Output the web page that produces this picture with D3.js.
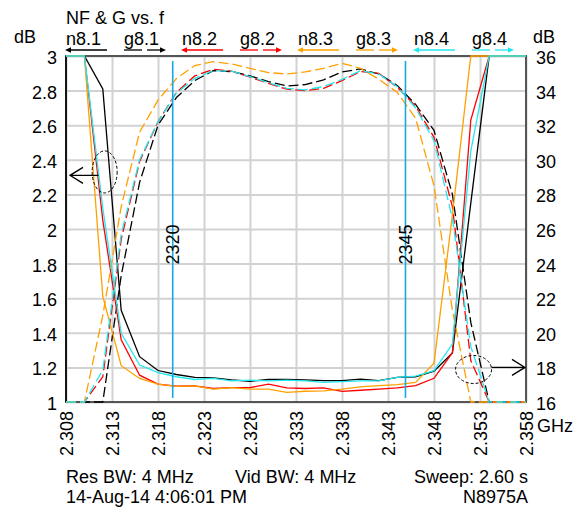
<!DOCTYPE html>
<html>
<head>
<meta charset="utf-8">
<script src="https://cdn.jsdelivr.net/npm/d3@7"></script>
<style>
  body { margin: 0; background: #fff; }
  text { font-family: "Liberation Sans", Arial, sans-serif; }
</style>
</head>
<body>
<div class="chart"></div>
<script>
/* global d3 */

// frequency points (GHz), one per sweep point
const freqs = [2.308, 2.310, 2.312, 2.314, 2.316, 2.318, 2.320, 2.322, 2.324, 2.326,
  2.328, 2.330, 2.332, 2.334, 2.336, 2.338, 2.340, 2.342, 2.344, 2.346,
  2.348, 2.350, 2.352, 2.354, 2.356, 2.358];

// noise figure (dB, left axis)
const n81 = [3, 3, 2.81, 1.53, 1.262, 1.182, 1.159, 1.142, 1.140, 1.128, 1.120, 1.130, 1.130,
  1.128, 1.124, 1.124, 1.132, 1.124, 1.142, 1.146, 1.178, 1.283, 2.15, 3, 3, 3];
const n82 = [3, 3, 2.05, 1.36, 1.155, 1.103, 1.091, 1.093, 1.078, 1.083, 1.083, 1.103, 1.082,
  1.078, 1.082, 1.062, 1.068, 1.074, 1.082, 1.095, 1.137, 1.285, 2.63, 3, 3, 3];
const n83 = [3, 3, 1.61, 1.21, 1.136, 1.103, 1.090, 1.093, 1.074, 1.083, 1.074, 1.074, 1.056,
  1.062, 1.064, 1.074, 1.087, 1.095, 1.101, 1.113, 1.224, 2.08, 3, 3, 3, 3];
const n84 = [3, 3, 2.12, 1.397, 1.214, 1.170, 1.146, 1.130, 1.136, 1.122, 1.126, 1.122, 1.126,
  1.122, 1.113, 1.118, 1.122, 1.122, 1.142, 1.150, 1.181, 1.335, 2.45, 3, 3, 3];

// gain (dB, right axis)
const g81 = [16, 16, 16, 23.3, 28.7, 32.0, 33.6, 34.58, 35.15, 35.10, 34.85, 34.52, 34.27,
  34.35, 34.62, 35.08, 35.25, 34.96, 34.3, 33.2, 31.7, 28.0, 20.6, 16, 16, 16];
const g82 = [16, 16, 17.46, 25.4, 29.9, 32.2, 33.9, 34.85, 35.23, 35.12, 34.78, 34.42, 34.08,
  34.0, 34.13, 34.58, 35.1, 35.0, 34.2, 33.1, 31.3, 27.3, 18.4, 16, 16, 16];
const g83 = [16, 16, 21.0, 27.3, 31.6, 33.45, 34.7, 35.45, 35.67, 35.54, 35.29, 35.04, 34.96,
  35.08, 35.29, 35.58, 35.29, 34.65, 33.9, 32.4, 28.5, 21.3, 16, 16, 16, 16];
const g84 = [16, 16, 17.85, 25.7, 30.0, 32.2, 33.85, 34.71, 35.15, 35.12, 34.81, 34.46, 34.13,
  34.04, 34.23, 34.65, 35.15, 34.96, 34.23, 33.0, 31.1, 26.6, 19.2, 16, 16, 16];

const seriesNames = ['n8.1', 'g8.1', 'n8.2', 'g8.2', 'n8.3', 'g8.3', 'n8.4', 'g8.4'];
const seriesValues = [n81, g81, n82, g82, n83, g83, n84, g84];

// axis ticks
const xTicks = [2.308, 2.313, 2.318, 2.323, 2.328, 2.333, 2.338, 2.343, 2.348, 2.353, 2.358];
const nfTicks = [1, 1.2, 1.4, 1.6, 1.8, 2, 2.2, 2.4, 2.6, 2.8, 3];
const gainTicks = [16, 18, 20, 22, 24, 26, 28, 30, 32, 34, 36];

// frequency markers
const markerFreqs = [2.3196, 2.3449];
const markerLabels = ['2320', '2345'];

document.addEventListener('DOMContentLoaded', () => myVis());

function myVis() {
  const width = 587;
  const height = 509;
  const margin = {top: 56, left: 66, right: 61, bottom: 107};
  const plotWidth = width - margin.left - margin.right;
  const plotHeight = height - margin.top - margin.bottom;
  const bottom = margin.top + plotHeight;
  const right = margin.left + plotWidth;

  // colour per pair of series
  const colors = ['#000000', '#ff0000', '#ffa000', '#22e8f0'];
  const markerColor = '#16a9e2';

  const x = d3.scaleLinear().domain([2.308, 2.358]).range([margin.left, right]);
  const yL = d3.scaleLinear().domain([1, 3]).range([bottom, margin.top]).clamp(true);
  const yR = d3.scaleLinear().domain([16, 36]).range([bottom, margin.top]).clamp(true);

  const svg = d3.select('.chart').append('svg')
    .attr('width', width).attr('height', height);

  // grid + left labels
  const gl = svg.append('g')
    .attr('transform', `translate(${margin.left},0)`)
    .call(d3.axisLeft(yL).tickValues(nfTicks).tickSize(-plotWidth).tickPadding(9)
      .tickFormat(d => String(d)));
  // grid + bottom labels
  const gb = svg.append('g')
    .attr('transform', `translate(0,${bottom})`)
    .call(d3.axisBottom(x).tickValues(xTicks).tickSize(-plotHeight)
      .tickFormat(d3.format('.3f')));
  // right labels
  const gr = svg.append('g')
    .attr('transform', `translate(${right},0)`)
    .call(d3.axisRight(yR).tickValues(gainTicks).tickSize(0).tickPadding(10));

  [gl, gb, gr].forEach(g => {
    g.select('.domain').remove();
    g.selectAll('.tick line').attr('stroke', '#d2d2d2').attr('stroke-width', 2);
    g.selectAll('text').attr('font-size', 18).attr('fill', '#000')
      .attr('font-family', '"Liberation Sans", Arial, sans-serif');
  });
  gl.selectAll('text').attr('dy', '0.42em');
  gr.selectAll('text').attr('dy', '0.42em');
  gb.selectAll('text')
    .attr('text-anchor', 'end')
    .attr('transform', 'rotate(-90)')
    .attr('x', -9).attr('y', 0).attr('dy', '0.36em');

  // plot frame
  svg.append('rect')
    .attr('x', margin.left).attr('y', margin.top)
    .attr('width', plotWidth).attr('height', plotHeight)
    .attr('fill', 'none').attr('stroke', '#555').attr('stroke-width', 2);
  svg.append('line')
    .attr('x1', margin.left).attr('x2', margin.left)
    .attr('y1', margin.top).attr('y2', bottom)
    .attr('stroke', '#000').attr('stroke-width', 1.5);

  // curves
  seriesNames.forEach((name, i) => {
    const isGain = name[0] === 'g';
    const yScale = isGain ? yR : yL;
    const line = d3.line()
      .x((d, j) => x(freqs[j]))
      .y(d => yScale(d));
    svg.append('path')
      .datum(seriesValues[i])
      .attr('class', 'series')
      .attr('d', line)
      .attr('fill', 'none')
      .attr('stroke', colors[Math.floor(i / 2)])
      .attr('stroke-width', 1.3)
      .attr('stroke-dasharray', isGain ? '10,4' : null);
  });

  // markers
  markerFreqs.forEach((f, i) => {
    svg.append('line')
      .attr('x1', x(f)).attr('x2', x(f))
      .attr('y1', margin.top + 5).attr('y2', bottom - 4)
      .attr('stroke', markerColor).attr('stroke-width', 1.6);
    svg.append('text')
      .attr('transform', `translate(${x(f) + 6.5},${yL(1.91)}) rotate(-90)`)
      .attr('text-anchor', 'middle')
      .attr('font-size', 18)
      .text(markerLabels[i]);
  });

  // axis pointers: dashed ellipse + arrow
  const leftC = {cx: x(2.3122), cy: yL(2.33)};
  svg.append('ellipse')
    .attr('cx', leftC.cx).attr('cy', leftC.cy).attr('rx', 12.5).attr('ry', 21)
    .attr('fill', 'none').attr('stroke', '#000').attr('stroke-width', 1)
    .attr('stroke-dasharray', '3,2');
  const ly = yL(2.31);
  svg.append('path')
    .attr('d', `M${leftC.cx - 6},${ly}H${margin.left + 4}M${margin.left + 17},${ly - 8}L${margin.left + 4},${ly}L${margin.left + 17},${ly + 8}`)
    .attr('fill', 'none').attr('stroke', '#000').attr('stroke-width', 1.3);

  const rightC = {cx: x(2.3523), cy: yR(17.88)};
  svg.append('ellipse')
    .attr('cx', rightC.cx).attr('cy', rightC.cy).attr('rx', 18).attr('ry', 14)
    .attr('fill', 'none').attr('stroke', '#000').attr('stroke-width', 1)
    .attr('stroke-dasharray', '3,2');
  const ry = yR(18);
  svg.append('path')
    .attr('d', `M${rightC.cx + 18},${ry}H${right - 1}M${right - 14},${ry - 8}L${right - 1},${ry}L${right - 14},${ry + 8}`)
    .attr('fill', 'none').attr('stroke', '#000').attr('stroke-width', 1.3);

  // title and units
  svg.append('text').attr('x', 66).attr('y', 24).attr('font-size', 18).text('NF & G vs. f');
  svg.append('text').attr('x', 14).attr('y', 43).attr('font-size', 18).text('dB');
  svg.append('text').attr('x', 533).attr('y', 43).attr('font-size', 18).text('dB');
  svg.append('text').attr('x', 537).attr('y', 432).attr('font-size', 18).text('GHz');

  // legend: label with line style and arrow toward its axis
  const legend = svg.selectAll('.legend').data(seriesNames).enter()
    .append('g').attr('class', 'legend')
    .attr('transform', (d, i) => `translate(${66 + i * 58},0)`);
  legend.append('text').attr('x', 0).attr('y', 45).attr('font-size', 18).text(d => d);
  legend.each(function (d, i) {
    const g = d3.select(this);
    const c = colors[Math.floor(i / 2)];
    if (d[0] === 'n') {
      g.append('line').attr('x1', 1).attr('x2', 41).attr('y1', 50).attr('y2', 50)
        .attr('stroke', c).attr('stroke-width', 1.3);
      g.append('path').attr('d', 'M-1,50L5,47.3L5,52.7Z').attr('fill', c);
    } else {
      g.append('line').attr('x1', 0).attr('x2', 18).attr('y1', 50).attr('y2', 50)
        .attr('stroke', c).attr('stroke-width', 1.3);
      g.append('line').attr('x1', 23).attr('x2', 38).attr('y1', 50).attr('y2', 50)
        .attr('stroke', c).attr('stroke-width', 1.3);
      g.append('path').attr('d', 'M42,50L36,47.3L36,52.7Z').attr('fill', c);
    }
  });

  // footer
  const foot = [
    {x: 66, y: 483, anchor: 'start', t: 'Res BW: 4 MHz'},
    {x: 235, y: 483, anchor: 'start', t: 'Vid BW: 4 MHz'},
    {x: 528, y: 483, anchor: 'end', t: 'Sweep: 2.60 s'},
    {x: 66, y: 503, anchor: 'start', t: '14-Aug-14 4:06:01 PM'},
    {x: 528, y: 503, anchor: 'end', t: 'N8975A'}
  ];
  svg.selectAll('.foot').data(foot).enter()
    .append('text').attr('class', 'foot')
    .attr('x', d => d.x).attr('y', d => d.y)
    .attr('text-anchor', d => d.anchor)
    .attr('font-size', 18)
    .text(d => d.t);
}
</script>
</body>
</html>
